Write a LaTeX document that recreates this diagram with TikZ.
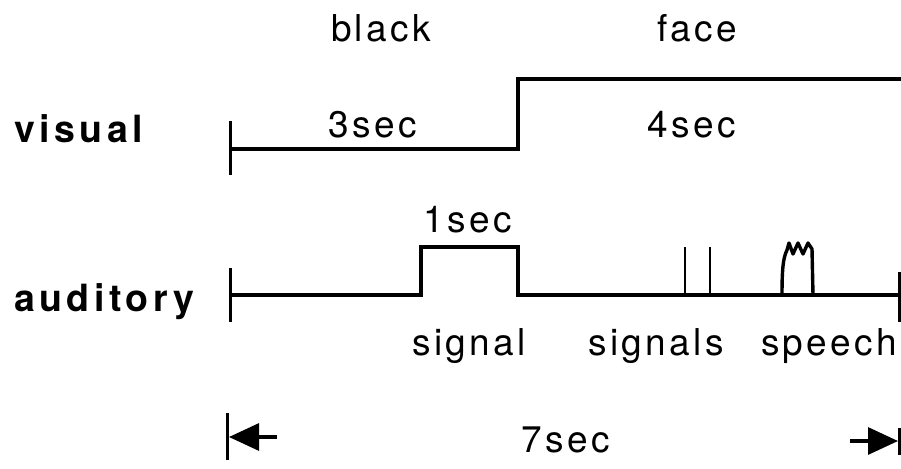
\documentclass[tikz,border=0pt]{standalone}
\usepackage{fontspec}
\setmainfont{TeX Gyre Heros}
\newfontfamily\labelfont{TeX Gyre Heros}[LetterSpace=9]
\newfontfamily\rowfont{TeX Gyre Heros}[LetterSpace=12,BoldFont={* Bold}]
\usetikzlibrary{arrows.meta}
\begin{document}
\begin{tikzpicture}[x=1pt,y=-1pt,
  trace/.style={line width=3.2pt,line join=miter,line cap=butt},
  tick/.style={line width=3pt},
  txt/.style={inner sep=0pt,anchor=base,font=\labelfont\fontsize{37}{40}\selectfont},
  rowlabel/.style={inner sep=0pt,anchor=base west,font=\rowfont\bfseries\fontsize{37.5}{40}\selectfont},
  dim/.style={line width=3.2pt,-{Triangle[length=30pt,width=27pt]}}]
\useasboundingbox (0,0) rectangle (901,468);

% visual channel
\coordinate (v0) at (230,149);
\coordinate (v1) at (518,149);
\coordinate (v2) at (518,79);
\coordinate (v3) at (901,79);
\draw[tick] (230,121) -- (230,175);
\draw[trace] (v0) -- (v1) -- (v2) -- (v3);

% auditory channel
\coordinate (a0) at (230,295);
\coordinate (p0) at (421,295);
\coordinate (p1) at (421,247);
\coordinate (p2) at (518,247);
\coordinate (p3) at (518,295);
\coordinate (a1) at (899,295);
\draw[tick] (230,268) -- (230,322);
\draw[tick] (899,272) -- (899,322);
\draw[trace] (a0) -- (p0) -- (p1) -- (p2) -- (p3) -- (a1);

% two short signals
\draw[trace,line width=2.8pt] (685,295) -- (685,247);
\draw[trace,line width=2.8pt] (710,295) -- (710,247);

% speech burst
\draw[trace,line width=3.4pt,line join=round]
  (782,295) .. controls (782,270) and (783,258) .. (787,250)
  -- (789,243) -- (793,254) -- (798,243) -- (803,254) -- (808,243) -- (812,249)
  -- (813,295);

% texts
\node[txt] (black) at (381,42) {black};
\node[txt] (face) at (697,42) {face};
\node[txt] (t3) at (373,137) {3sec};
\node[txt] (t4) at (692,137) {4sec};
\node[txt] (t1) at (468,232) {1sec};
\node[txt] (sig) at (469,355) {signal};
\node[txt] (sigs) at (656,355) {signals};
\node[txt] (sp) at (829,355) {speech};
\node[txt] (t7) at (566,452) {7sec};
\node[rowlabel] (vis) at (14,142) {visual};
\node[rowlabel] (aud) at (14,311) {auditory};

% overall duration
\coordinate (l0) at (227,413);
\coordinate (l1) at (227,460);
\coordinate (r0) at (899,428);
\coordinate (r1) at (899,455);
\coordinate (la) at (277,437);
\coordinate (lt) at (229,437);
\coordinate (ra) at (850,441);
\coordinate (rt) at (898,441);
\draw[tick] (l0) -- (l1);
\draw[tick] (r0) -- (r1);
\draw[dim] (la) -- (lt);
\draw[dim] (ra) -- (rt);
\end{tikzpicture}
\end{document}
